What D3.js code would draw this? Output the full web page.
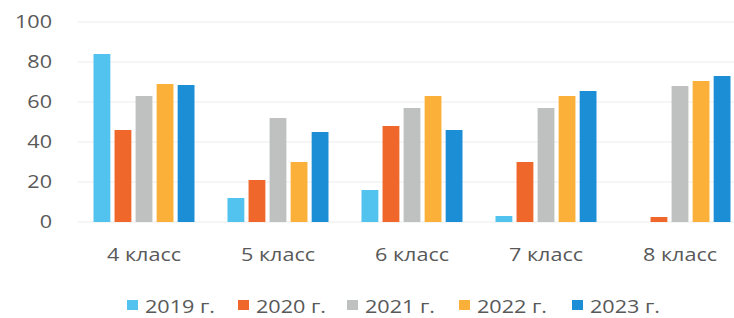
<!DOCTYPE html>
<html>
<head>
<meta charset="utf-8">
<script src="https://cdn.jsdelivr.net/npm/d3@7"></script>
<style>
	body { margin: 0; background: #fff; }
	svg { display: block; overflow: hidden; }
	text { font-family: 'Open Sans', sans-serif; fill: #595959; font-size: 18px; }
</style>
</head>
<body>
<svg id="chart" width="734" height="318"></svg>
<script>
const grades = ['4 класс', '5 класс', '6 класс', '7 класс', '8 класс'];
const years = ['2019 г.', '2020 г.', '2021 г.', '2022 г.', '2023 г.'];
const colors = ['#52c3ef', '#f0672b', '#bfc1c1', '#fbb03a', '#1b8ed6'];
const yTicks = [0, 20, 40, 60, 80, 100];

// values per year, in grade order
const v2019 = [84, 12, 16, 3, 0];
const v2020 = [46, 21, 48, 30, 2.5];
const v2021 = [63, 52, 57, 57, 68];
const v2022 = [69, 30, 63, 63, 70.5];
const v2023 = [68.5, 45, 46, 65.5, 73];
const series = [v2019, v2020, v2021, v2022, v2023];

// the scanned text is a bit wider than the installed fonts
const stretch = 1.2;
const place = (x, yy) => `translate(${x},${yy}) scale(${stretch},1)`;

const svg = d3.select('#chart');

const x0 = d3.scaleBand().domain(grades).range([77, 747]);
const x1 = d3.scaleBand().domain(years)
	.range([16.5, x0.bandwidth() - 16.5])
	.paddingInner(0.2);
const y = d3.scaleLinear().domain([0, 100]).range([222, 22]);

// gridlines
svg.append('g').attr('class', 'grid')
	.selectAll('line')
	.data(yTicks)
	.join('line')
	.attr('x1', 78)
	.attr('x2', 734)
	.attr('y1', d => y(d))
	.attr('y2', d => y(d))
	.style('stroke', '#ececec')
	.style('stroke-width', 1);

// y labels
svg.append('g').attr('class', 'y-labels')
	.selectAll('text')
	.data(yTicks)
	.join('text')
	.attr('transform', d => place(52, y(d)))
	.attr('dy', '0.35em')
	.attr('text-anchor', 'end')
	.text(d => d);

// bars
const groups = svg.append('g').attr('class', 'bars')
	.selectAll('g')
	.data(grades)
	.join('g')
	.attr('transform', d => `translate(${x0(d)},0)`);

groups.selectAll('rect')
	.data((g, gi) => years.map((yr, si) => ({ yr, si, v: series[si][gi] })))
	.join('rect')
	.attr('x', d => x1(d.yr))
	.attr('width', x1.bandwidth())
	.attr('y', d => y(d.v))
	.attr('height', d => y(0) - y(d.v))
	.style('fill', d => colors[d.si]);

// category labels
svg.append('g').attr('class', 'x-labels')
	.selectAll('text')
	.data(grades)
	.join('text')
	.attr('transform', d => place(x0(d) + x0.bandwidth() / 2, 261))
	.attr('text-anchor', 'middle')
	.text(d => d);

// legend
const legendX = [127, 238, 347, 459, 572];
const legend = svg.append('g').attr('class', 'legend')
	.selectAll('g')
	.data(years)
	.join('g')
	.attr('transform', (d, i) => `translate(${legendX[i]},0)`);
legend.append('rect')
	.attr('y', 300)
	.attr('width', 11)
	.attr('height', 10)
	.style('fill', (d, i) => colors[i]);
legend.append('text')
	.attr('transform', place(18, 313))
	.text(d => d);
</script>
</body>
</html>
